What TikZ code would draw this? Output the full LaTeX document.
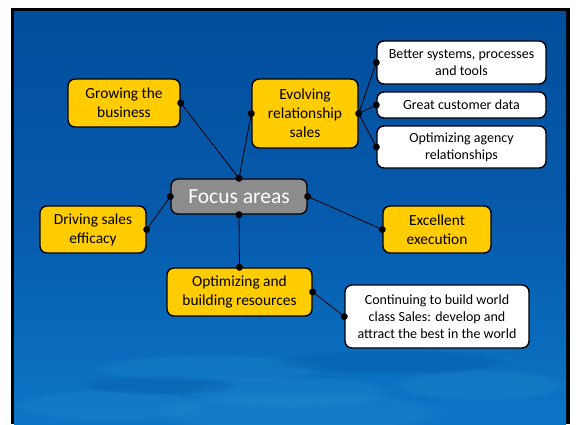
\documentclass[tikz,border=0pt]{standalone}
\usepackage{fontspec}
\setmainfont{Carlito}
\usetikzlibrary{fadings}
\definecolor{bgtop}{RGB}{2,78,156}
\definecolor{bgmid}{RGB}{6,90,172}
\definecolor{bgbot}{RGB}{12,118,198}
\definecolor{patch}{RGB}{40,150,215}
\definecolor{boxyellow}{RGB}{255,204,0}
\definecolor{boxgray}{RGB}{140,140,140}
\tikzset{
  ybox/.style={draw=black, line width=1.4pt, fill=boxyellow, rounded corners=7pt,
    align=center, inner sep=2pt, font=\fontsize{15.4}{19}\selectfont, text=black},
  wbox/.style={draw=black, line width=1.4pt, fill=white, rounded corners=7pt,
    align=center, inner sep=2pt, font=\fontsize{14}{17}\selectfont, text=black},
  gbox/.style={draw=black, line width=1.4pt, fill=boxgray, rounded corners=7pt,
    align=center, inner sep=2pt, font=\fontsize{21.5}{25}\selectfont, text=white},
  conn/.style={draw=black, line width=0.8pt},
  dotmark/.style={fill=black},
  softpatch/.style={opacity=0.22, path fading=circle with fuzzy edge 20 percent},
}
\begin{document}
\begin{tikzpicture}[x=1pt,y=-1pt]
\useasboundingbox (0,0) rectangle (577,424);
\fill[white] (0,0) rectangle (577,424);
\fill[black] (11,8) rectangle (569.5,424);
\shade[top color=bgtop, bottom color=bgbot, middle color=bgmid] (14,11) rectangle (566,424);
% soft texture patches near bottom
\begin{scope}
\clip (14,11) rectangle (566,424);
\fill[patch, softpatch] (300,412) ellipse (150 and 22);
\fill[patch, softpatch] (290,392) ellipse (110 and 16);
\fill[patch, softpatch] (480,385) ellipse (90 and 16);
\fill[patch, softpatch] (110,405) ellipse (100 and 16);
\fill[patch, softpatch] (210,368) ellipse (120 and 14);
\fill[bgtop, softpatch] (390,362) ellipse (120 and 12);
\fill[bgtop, softpatch] (160,385) ellipse (80 and 10);
\end{scope}

\node[ybox, minimum width=112pt, minimum height=48pt] (grow) at (124,103) {Growing the\\business};
\node[ybox, minimum width=106pt, minimum height=69pt] (evolve) at (305,113.5) {Evolving\\relationship\\sales};
\node[wbox, minimum width=169pt, minimum height=43pt] (better) at (461.5,62.5) {Better systems, processes\\and tools};
\node[wbox, minimum width=169pt, minimum height=26pt] (great) at (461.5,105) {Great customer data};
\node[wbox, minimum width=169pt, minimum height=42pt] (agency) at (461.5,147) {Optimizing agency\\relationships};
\node[gbox, minimum width=136pt, minimum height=35pt] (focus) at (239,196.5) {Focus areas};
\node[ybox, minimum width=106pt, minimum height=47pt] (drive) at (93,229.5) {Driving sales\\efficacy};
\node[ybox, minimum width=108pt, minimum height=47pt] (excel) at (437,229.5) {Excellent\\execution};
\node[ybox, minimum width=145pt, minimum height=48pt] (optim) at (239.5,292) {Optimizing and\\building resources};
\node[wbox, minimum width=184pt, minimum height=63pt] (cont) at (437,316.5) {Continuing to build world\\class Sales: develop and\\attract the best in the world};

\draw[conn] (focus.north) -- (grow.east);
\draw[conn] (focus.north) -- (evolve.west);
\draw[conn] (focus.west) -- (drive.east);
\draw[conn] (focus.east) -- (excel.west);
\draw[conn] (focus.south) -- (optim.north);
\draw[conn] (optim.east) -- (cont.west);
\draw[conn] (evolve.east) -- (better.west);
\draw[conn] (evolve.east) -- (great.west);
\draw[conn] (evolve.east) -- (agency.west);

\foreach \p in {focus.north,focus.south,focus.east,focus.west,grow.east,evolve.west,evolve.east,
  better.west,great.west,agency.west,drive.east,excel.west,optim.north,optim.east,cont.west}
  \fill[dotmark] (\p) circle (3.5pt);
\end{tikzpicture}
\end{document}
